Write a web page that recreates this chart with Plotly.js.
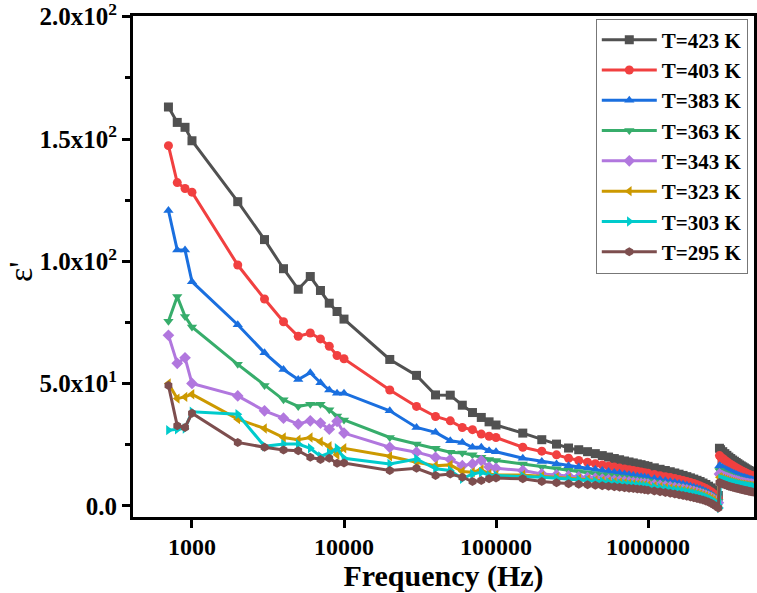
<!DOCTYPE html>
<html>
<head>
<meta charset="utf-8">
<script src="https://cdn.plot.ly/plotly-3.0.1.min.js"></script>
<style>html,body{margin:0;padding:0;background:#fff;}#chart{width:757px;height:593px;}</style>
</head>
<body>
<div id="chart"></div>
<script>
const freq = [700,800,900,1000,
  2000,3000,4000,5000,6000,7000,8000,9000,10000,
  20000,30000,40000,50000,60000,70000,80000,90000,100000,
  150000,200000,250000,300000,350000,400000,450000,500000,550000,600000,650000,700000,750000,800000,850000,900000,950000,1000000,
  1100000,1200000,1300000,1400000,1500000,1600000,1700000,1800000,1900000,2000000,2100000,2200000,2300000,2400000,2500000,2600000,2700000,2800000,2900000,
  2950000,
  3000000,3100000,3200000,3300000,3400000,3500000,3600000,3700000,3800000,3900000,4000000,4100000,4200000,4300000,4400000,4500000,4600000,4700000,4800000,4900000,5000000];

const labels = ["T=423 K","T=403 K","T=383 K","T=363 K","T=343 K","T=323 K","T=303 K","T=295 K"];

const eps423 = [163.1,156.8,154.8,149.3,124.4,108.9,97.0,88.6,93.8,88.1,82.9,79.5,76.4,59.9,53.4,45.4,45.3,41.2,38.2,36.2,34.4,33.1,
  29.8,27.1,25.3,23.7,23.0,22.2,21.4,20.6,20.0,19.4,18.9,18.4,18.0,17.6,17.2,16.9,16.5,16.2,
  15.6,15.0,14.5,14.0,13.5,13.0,12.5,12.0,11.5,11.0,10.5,10.0,9.4,8.8,8.1,7.4,6.6,5.6,4.3,
  23.6,
  23.0,22.2,21.4,20.7,20.0,19.4,18.8,18.3,17.8,17.3,16.8,16.4,16.0,15.6,15.2,14.8,14.5,14.2,13.9,13.6,13.3];
const eps403 = [147.3,132.2,129.8,128.3,98.5,84.6,75.3,69.4,70.7,68.3,65.3,61.5,60.2,47.4,40.7,36.6,34.8,32.1,31.2,29.4,28.5,28.0,
  24.0,22.4,20.9,19.5,18.6,17.9,17.3,16.8,16.3,15.9,15.5,15.1,14.8,14.5,14.2,13.9,13.6,13.4,
  12.9,12.4,12.0,11.6,11.2,10.8,10.4,10.0,9.6,9.2,8.7,8.2,7.7,7.1,6.5,5.8,5.0,4.1,3.0,
  20.6,
  20.1,19.4,18.7,18.1,17.5,17.0,16.5,16.0,15.6,15.2,14.8,14.4,14.1,13.8,13.5,13.2,12.9,12.7,12.5,12.3,12.1];
const eps383 = [120.8,104.6,104.6,91.7,74.1,62.6,55.8,51.7,54.5,50.4,47.4,46.1,46.1,38.9,32.1,30.1,26.7,26.0,24.0,24.0,22.6,22.2,
  19.5,18.2,17.2,16.5,15.9,15.4,14.9,14.5,14.1,13.7,13.4,13.1,12.8,12.5,12.2,12.0,11.7,11.5,
  11.1,10.7,10.3,9.9,9.6,9.2,8.9,8.5,8.1,7.7,7.3,6.9,6.4,5.9,5.3,4.7,4.0,3.2,2.2,
  16.5,
  16.1,15.6,15.1,14.7,14.3,13.9,13.5,13.2,12.9,12.6,12.3,12.0,11.8,11.6,11.4,11.2,11.0,10.8,10.7,10.6,10.5];
const eps363 = [75.5,85.6,77.5,73.2,57.9,49.3,43.4,40.7,41.6,41.6,39.3,36.8,35.2,28.0,25.3,23.6,22.0,21.7,20.9,19.9,19.0,18.6,
  17.2,15.9,15.2,14.6,14.1,13.6,13.2,12.8,12.5,12.2,11.9,11.6,11.3,11.1,10.8,10.6,10.4,10.2,
  9.8,9.5,9.1,8.8,8.5,8.2,7.9,7.6,7.2,6.9,6.5,6.1,5.7,5.2,4.7,4.1,3.5,2.7,1.8,
  14.5,
  14.1,13.7,13.3,12.9,12.6,12.2,11.9,11.6,11.4,11.1,10.9,10.7,10.5,10.3,10.2,10.0,9.9,9.8,9.7,9.6,9.5];
const eps343 = [69.8,58.3,60.6,50.1,45.0,38.9,35.9,33.5,34.8,33.9,31.4,34.6,29.8,24.0,22.0,19.9,19.0,16.5,17.2,18.6,15.9,15.4,
  14.5,13.1,12.7,12.3,11.9,11.6,11.3,11.0,10.8,10.5,10.3,10.1,9.9,9.7,9.5,9.3,9.2,9.0,
  8.7,8.4,8.1,7.8,7.5,7.2,6.9,6.6,6.3,6.0,5.6,5.2,4.8,4.4,3.9,3.4,2.8,2.1,1.3,
  13.1,
  12.7,12.3,11.9,11.6,11.3,11.0,10.7,10.5,10.3,10.1,9.9,9.7,9.6,9.4,9.3,9.2,9.1,9.0,8.9,8.8,8.7];
const eps323 = [50.1,43.9,44.6,45.7,35.5,31.7,28.0,27.1,28.0,26.3,24.4,20.9,23.6,20.3,17.9,16.5,16.8,14.1,13.8,14.9,13.1,12.7,
  12.7,12.2,11.8,11.4,11.1,10.8,10.5,10.3,10.0,9.8,9.6,9.4,9.2,9.0,8.9,8.7,8.6,8.4,
  8.1,7.8,7.5,7.2,6.9,6.7,6.4,6.1,5.8,5.5,5.1,4.8,4.4,4.0,3.5,3.0,2.4,1.7,0.9,
  11.8,
  11.5,11.1,10.8,10.5,10.2,9.9,9.7,9.5,9.3,9.1,8.9,8.8,8.7,8.6,8.5,8.4,8.3,8.2,8.1,8.0,7.9];
const eps303 = [31.0,31.4,31.7,38.5,37.5,24.4,25.3,25.3,23.6,20.3,21.7,23.6,19.5,17.2,19.2,15.2,14.5,11.1,13.1,13.8,12.5,12.5,
  12.2,11.7,11.3,11.0,10.7,10.4,10.1,9.9,9.6,9.4,9.2,9.0,8.8,8.6,8.5,8.3,8.2,8.0,
  7.7,7.4,7.1,6.8,6.5,6.3,6.0,5.7,5.4,5.1,4.8,4.4,4.0,3.6,3.1,2.6,2.0,1.3,0.5,
  -0.8,
  11.2,10.9,10.6,10.3,10.0,9.8,9.6,9.4,9.2,9.0,8.8,8.7,8.5,8.4,8.3,8.2,8.1,8.0,7.9,7.8,7.7];
const eps295 = [49.3,32.8,32.1,37.9,26.0,24.0,22.9,22.6,19.9,19.0,19.5,17.5,17.6,14.5,15.4,12.5,13.1,11.8,10.0,10.4,11.1,11.4,
  11.1,10.0,9.5,9.1,8.9,8.7,8.5,8.3,8.1,7.9,7.7,7.5,7.3,7.1,6.9,6.8,6.6,6.4,
  6.1,5.8,5.5,5.2,4.9,4.6,4.3,4.0,3.7,3.4,3.1,2.8,2.4,2.0,1.6,1.1,0.5,-0.1,-0.8,
  9.6,
  9.3,9.0,8.7,8.4,8.1,7.9,7.7,7.5,7.3,7.1,6.9,6.7,6.6,6.4,6.3,6.2,6.0,5.9,5.8,5.7,5.6];

const series = [eps423, eps403, eps383, eps363, eps343, eps323, eps303, eps295];
const colors = ["#515151","#F14040","#1A6FDF","#37AD6B","#B177DE","#CC9900","#00CBCC","#7D4E4E"];
const symbols = ["square","circle","triangle-up","triangle-down","diamond","triangle-left","triangle-right","hexagon"];

const yTickVals = [0, 50, 100, 150, 200];
const yTickText = ["0.0", "5.0x10<sup>1</sup>", "1.0x10<sup>2</sup>", "1.5x10<sup>2</sup>", "2.0x10<sup>2</sup>"];
const xTickVals = [1000, 10000, 100000, 1000000];
const xTickText = ["1000", "10000", "100000", "1000000"];
const yTitle = "ε'";
const xTitle = "Frequency (Hz)";

const traces = series.map((s, i) => ({
  x: freq, y: s, name: labels[i], type: "scatter", mode: "lines+markers",
  line: {color: colors[i], width: 3},
  marker: {color: colors[i], symbol: symbols[i], size: 9}
}));

const fontFam = "Liberation Serif, Times New Roman, serif";
const layout = {
  width: 757, height: 593,
  margin: {l: 133, r: 3, t: 16, b: 76},
  paper_bgcolor: "#fff", plot_bgcolor: "#fff",
  showlegend: true,
  legend: {
    x: 0.99, xanchor: "right", y: 0.995, yanchor: "top",
    bordercolor: "#777", borderwidth: 1, bgcolor: "#fff",
    font: {family: fontFam, size: 21, color: "#000", weight: "bold"},
    itemwidth: 55, tracegroupgap: 0
  },
  xaxis: {
    type: "log", range: [2.612, 6.697],
    tickmode: "array", tickvals: xTickVals, ticktext: xTickText,
    ticks: "outside", ticklen: 8, tickwidth: 3, tickcolor: "#000",
    ticklabelstandoff: -2,
    showline: true, linecolor: "#000", linewidth: 3, mirror: true,
    showgrid: false, zeroline: false,
    tickfont: {family: fontFam, size: 24, color: "#000", weight: "bold"},
    title: {text: xTitle, font: {family: fontFam, size: 30, color: "#000", weight: "bold"}, standoff: 22}
  },
  yaxis: {
    range: [-4.5, 200.3],
    tickmode: "array", tickvals: yTickVals, ticktext: yTickText,
    ticklabeloverflow: "allow",
    ticks: "outside", ticklen: 8, tickwidth: 3, tickcolor: "#000",
    minor: {tickmode: "array", tickvals: [25, 75, 125, 175], ticks: "outside", ticklen: 5, tickwidth: 3, tickcolor: "#000"},
    showline: true, linecolor: "#000", linewidth: 3, mirror: true,
    showgrid: false, zeroline: false,
    tickfont: {family: fontFam, size: 25, color: "#000", weight: "bold"}
  },
  annotations: [{
    text: yTitle, xref: "paper", yref: "paper", x: -0.2126, y: 0.49,
    xanchor: "left", yanchor: "middle", textangle: -90, showarrow: false, borderpad: 0,
    font: {family: fontFam, size: 34, color: "#000"}
  }]
};

Plotly.newPlot("chart", traces, layout, {displayModeBar: false, staticPlot: true});
</script>
</body>
</html>
